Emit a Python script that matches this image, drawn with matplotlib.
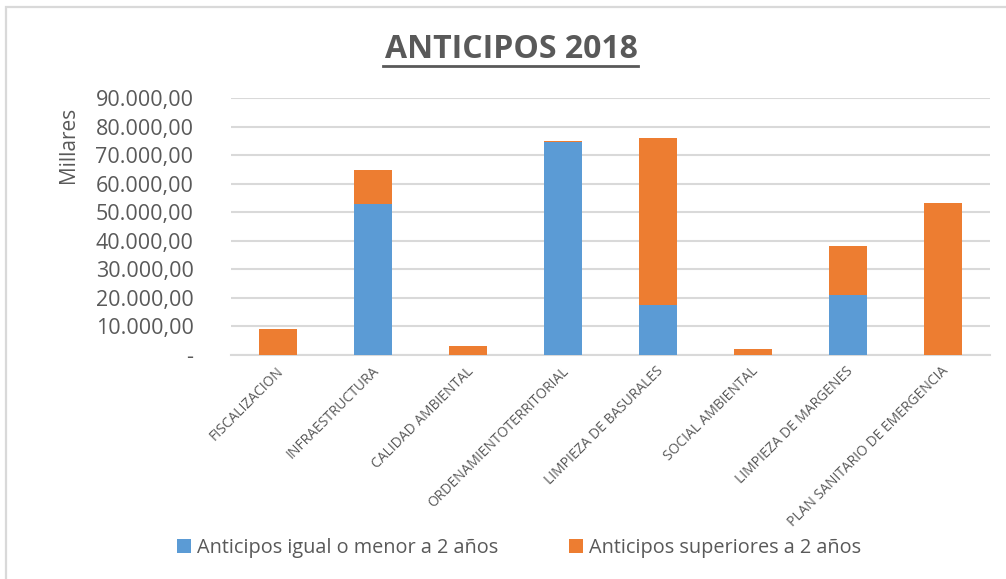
import matplotlib
matplotlib.use("Agg")
import matplotlib.pyplot as plt
from matplotlib.patches import Rectangle
from matplotlib.ticker import FuncFormatter
import matplotlib.transforms as mtransforms
import numpy as np

categories = ["FISCALIZACION", "INFRAESTRUCTURA", "CALIDAD AMBIENTAL",
              "ORDENAMIENTOTERRITORIAL", "LIMPIEZA DE BASURALES",
              "SOCIAL AMBIENTAL", "LIMPIEZA DE MARGENES",
              "PLAN SANITARIO DE EMERGENCIA"]
menor_2 = [0, 52850, 0, 74750, 17450, 0, 20950, 0]
superior_2 = [9000, 12100, 3050, 350, 58450, 2000, 17100, 53300]
series_names = ["Anticipos igual o menor a 2 años", "Anticipos superiores a 2 años"]
yticks = [0, 10000, 20000, 30000, 40000, 50000, 60000, 70000, 80000, 90000]

BLUE = "#5B9BD5"
ORANGE = "#ED7D31"
TXT = "#595959"
GRID = "#D9D9D9"

W, H = 1006, 579
fig = plt.figure(figsize=(W / 100, H / 100), dpi=100)
fig.patch.set_facecolor("white")

# outer frame
fig.add_artist(Rectangle((6 / W, -0.05), 1.2, 1 - 7 / H + 0.05, transform=fig.transFigure,
                         fill=False, edgecolor="#D9D9D9", linewidth=1.6))

ax = fig.add_axes([231 / W, 1 - 355 / H, (990 - 231) / W, (355 - 98) / H])
x = np.arange(len(categories))
ax.bar(x, menor_2, width=0.4, color=BLUE, label=series_names[0], zorder=3)
ax.bar(x, superior_2, width=0.4, bottom=menor_2, color=ORANGE, label=series_names[1], zorder=3)

ax.set_xlim(-0.5, len(categories) - 0.5)
ax.set_ylim(0, 90000)
ax.set_yticks(yticks)


def fmt(v, pos):
    if v == 0:
        return "-"
    s = f"{int(round(v)):,}".replace(",", ".")
    return s + ",00"


ax.yaxis.set_major_formatter(FuncFormatter(fmt))
ax.grid(axis="y", color=GRID, linewidth=1.5, zorder=0)
ax.set_axisbelow(True)
for s in ["top", "right", "left"]:
    ax.spines[s].set_visible(False)
ax.spines["bottom"].set_color(GRID)
ax.spines["bottom"].set_linewidth(1.5)
ax.tick_params(axis="y", length=0, pad=27, labelsize=15.5, labelcolor=TXT)
ax.tick_params(axis="x", length=0)
for lab in ax.get_yticklabels():
    lab.set_fontfamily("Open Sans")

ax.set_xticks(x)
ax.set_xticklabels(categories, rotation=45, ha="right", va="top",
                   rotation_mode="anchor", fontsize=10, color=TXT,
                   fontfamily="Open Sans")
offset = mtransforms.ScaledTranslation(-2 / 100, -4 / 100, fig.dpi_scale_trans)
for lab in ax.get_xticklabels():
    lab.set_transform(lab.get_transform() + offset)

fig.text(68 / W, 1 - 145 / H, "Millares", rotation=90, ha="center", va="center",
         fontsize=15, color=TXT, fontfamily="Open Sans")

fig.text(511 / W, 1 - 50 / H, "ANTICIPOS 2018", ha="center", va="center",
         fontsize=23, fontweight="bold", color=TXT, fontfamily="Open Sans")
fig.add_artist(plt.Line2D([383 / W, 638 / W], [1 - 66 / H, 1 - 66 / H], transform=fig.transFigure,
                          color=TXT, linewidth=2))

leg = fig.legend(loc="center", bbox_to_anchor=(519 / W, 1 - 548 / H), ncol=2, frameon=False,
                 handlelength=0.7, handleheight=0.7, handletextpad=0.3,
                 columnspacing=3.6, prop={"family": "Open Sans", "size": 14.3})
for t in leg.get_texts():
    t.set_color(TXT)

fig.savefig("out.png", dpi=100, facecolor="white")
